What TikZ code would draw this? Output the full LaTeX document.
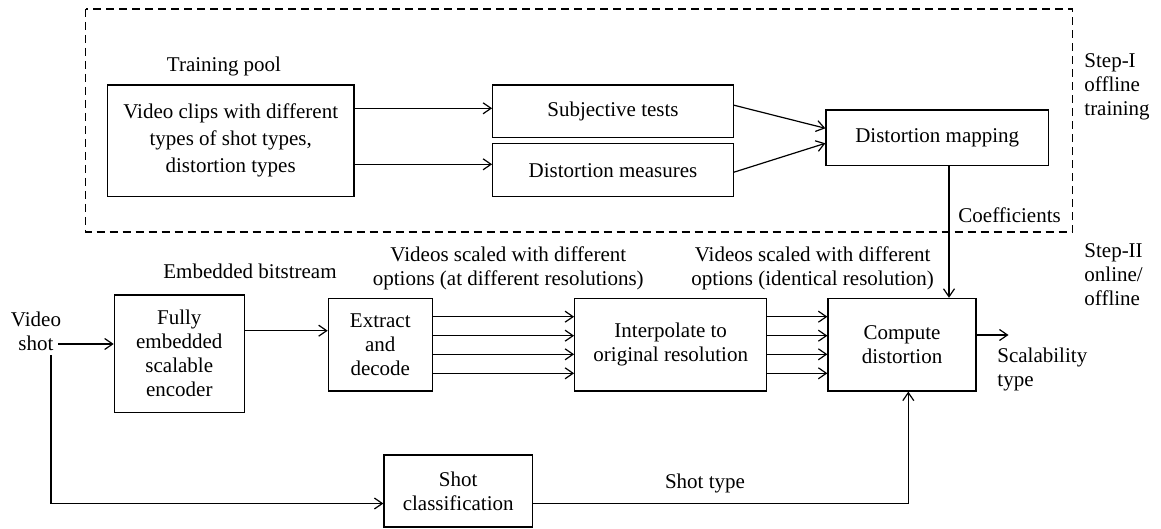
\documentclass[tikz,border=0pt]{standalone}
\usepackage{fontspec}
\setmainfont{Liberation Serif}
\usetikzlibrary{arrows.meta}

\tikzset{
  blk/.style={draw, line width=0.6pt, align=center, inner sep=1pt},
  lbl/.style={align=center, inner sep=0pt},
  arr/.style={-{Straight Barb[length=4pt,width=5.5pt]}, line width=0.6pt},
  ln/.style={line width=0.6pt},
}

\begin{document}
\begin{tikzpicture}[x=0.5pt,y=-0.5pt,font=\fontsize{10.5}{12}\selectfont]
\useasboundingbox (0,0) rectangle (1161,529);
% step I: offline training
\draw[ln, dash pattern=on 4pt off 2.5pt] (85.7,9) rectangle (1072.7,232);
\node[lbl] (pool) at (224,66.7) {Training pool};
\node[blk, minimum width=123.3pt, minimum height=55.8pt] (clips) at (230.7,140.8)
  {Video clips with different\\[1.5pt] types of shot types,\\[1.5pt] distortion types};
\node[blk, minimum width=120.3pt, minimum height=26.2pt] (subj) at (613,111.2) {Subjective tests};
\node[blk, minimum width=120.3pt, minimum height=26.5pt] (meas) at (613,170.2) {Distortion measures};
\node[blk, minimum width=111.2pt, minimum height=27.8pt] (map) at (937.2,137.8) {Distortion mapping};
\node[lbl] (coef) at (1009.6,215) {Coefficients};
\node[lbl, anchor=west, align=left] (step1) at (1084,87) {Step-I\\offline\\training};

\draw[arr] ([yshift=16.25pt]clips.east) -- ([yshift=16.25pt]clips.east -| subj.west);
\draw[arr] ([yshift=-11.75pt]clips.east) -- ([yshift=-11.75pt]clips.east -| meas.west);
\draw[arr] ([yshift=3pt]subj.east) -- ([yshift=4.75pt]map.west);
\draw[arr] ([yshift=-1pt]meas.east) -- ([yshift=-2.75pt]map.west);

% step II: online/offline
\node[lbl, anchor=west, align=left] (step2) at (1084,275) {Step-II\\online/\\offline};
\node[lbl] (vs) at (36,331.7) {Video\\shot};
\node[lbl] (bits) at (250,271) {Embedded bitstream};
\node[lbl] (opt1) at (508.3,268) {Videos scaled with different\\options (at different resolutions)};
\node[lbl] (opt2) at (812.6,268) {Videos scaled with different\\options (identical resolution)};
\node[blk, minimum width=65pt, minimum height=58.7pt] (enc) at (179.3,353.7)
  {Fully\\embedded\\scalable\\encoder};
\node[blk, minimum width=52pt, minimum height=46.3pt] (ext) at (380.3,344.7) {Extract\\and\\decode};
\node[blk, minimum width=96pt, minimum height=46.3pt] (int) at (670.7,344.7)
  {Interpolate to\\original resolution};
\node[blk, minimum width=74pt, minimum height=46.3pt] (comp) at (902,344.7) {Compute\\distortion};
\node[blk, minimum width=74.2pt, minimum height=36pt] (sc) at (458.2,491) {Shot\\classification};
\node[lbl, anchor=west, align=left] (scal) at (997,369) {Scalability\\type};
\node[lbl] (stype) at (705,483.3) {Shot type};

\coordinate (vsx) at (58.3,344);
\coordinate (vsd) at (51,355);
\coordinate (bs) at (0,330.7);
\coordinate (bus) at (0,503.5);
\coordinate (stx) at (908.3,0);
\coordinate (cf) at (949,0);
\coordinate (out) at (1008.5,335);

\draw[arr] (vsx) -- (vsx -| enc.west);
\draw[arr] (enc.east |- bs) -- (ext.west |- bs);
\foreach \y in {316.7,335.7,354.3,373.3} {
  \draw[arr] (ext.east |- 0,\y) -- (int.west |- 0,\y);
  \draw[arr] (int.east |- 0,\y) -- (comp.west |- 0,\y);
}
\draw[arr] (map.south -| cf) -- (comp.north -| cf);
\draw[arr] (out -| comp.east) -- (out);
\draw[arr] (vsd) |- (sc.west |- bus);
\draw[arr] (sc.east |- bus) -| (comp.south -| stx);
\end{tikzpicture}
\end{document}
